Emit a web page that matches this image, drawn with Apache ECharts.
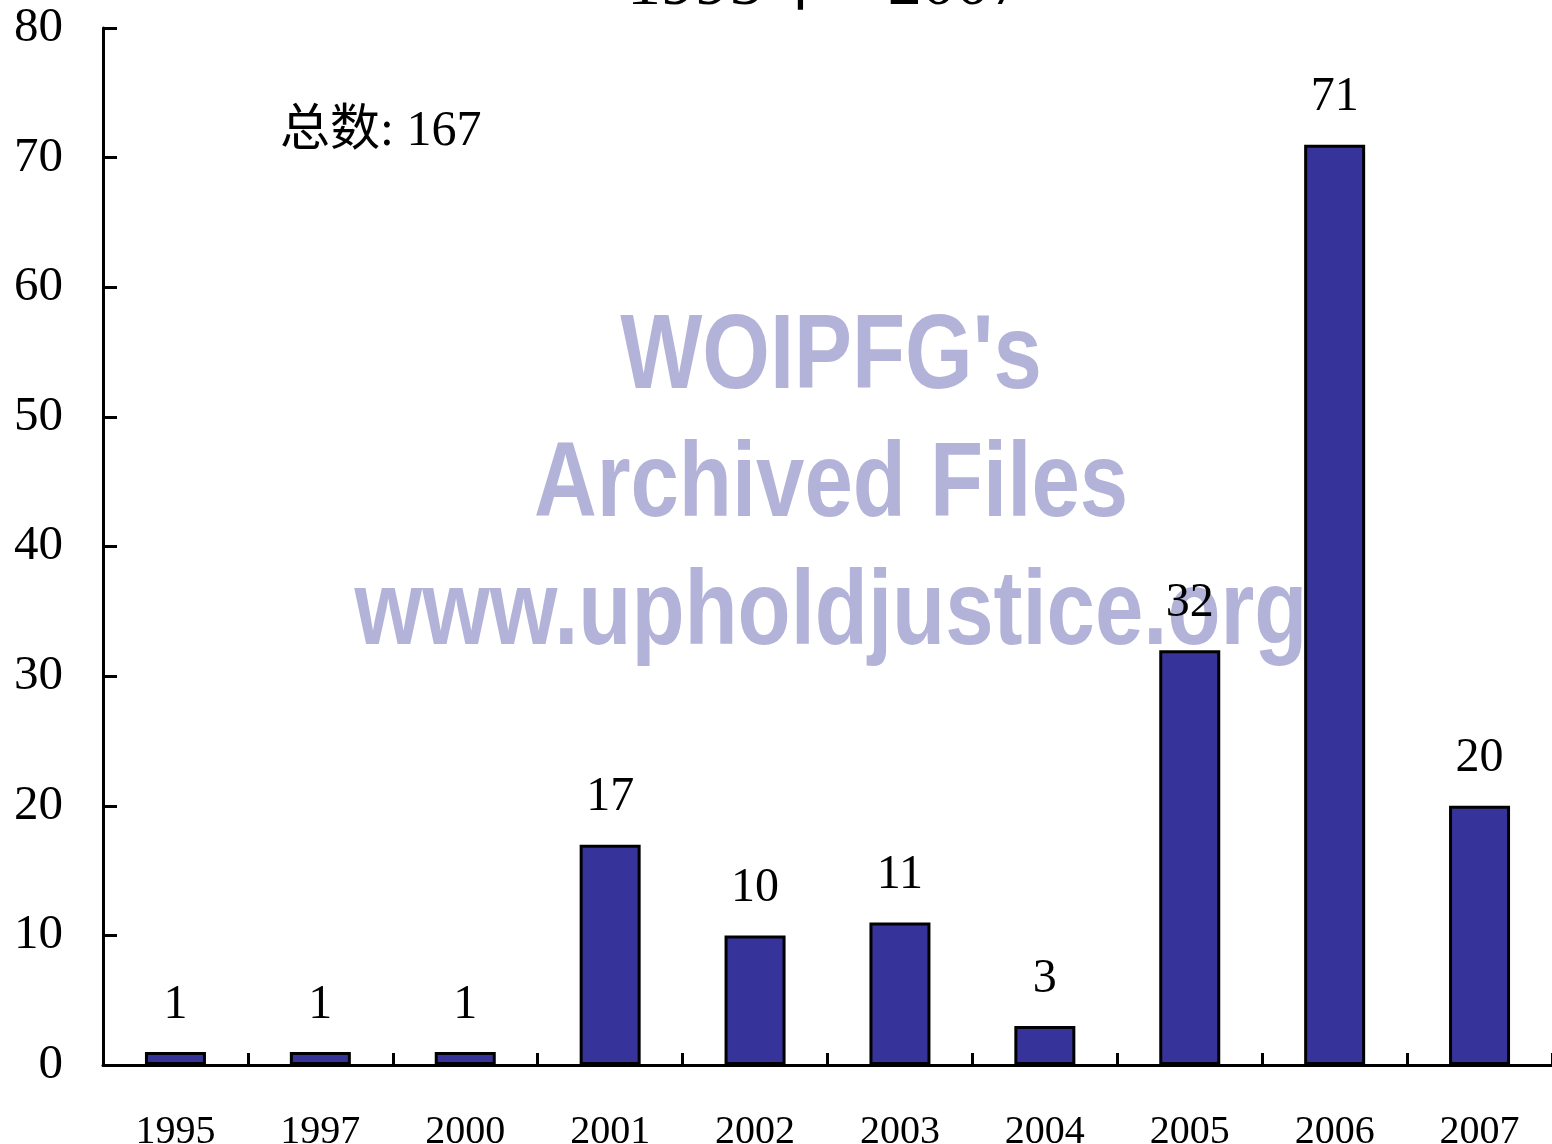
<!DOCTYPE html>
<html>
<head>
<meta charset="utf-8">
<title>1995-2007</title>
<script src="https://cdn.jsdelivr.net/npm/echarts@6/dist/echarts.min.js"></script>
<style>
  html, body { margin: 0; padding: 0; background: #fff; }
  #chart { width: 1552px; height: 1144px; }
</style>
</head>
<body>
<div id="chart"></div>
<script>
// data
var years  = ['1995', '1997', '2000', '2001', '2002', '2003', '2004', '2005', '2006', '2007'];
var counts = [1, 1, 1, 17, 10, 11, 3, 32, 71, 20];
var yTicks = { min: 0, max: 80, step: 10 };
var totalText = '总数: 167';
var watermarkLines = ["WOIPFG's", 'Archived Files', 'www.upholdjustice.org'];

var serif = "'Times New Roman', 'Liberation Serif', 'Noto Sans CJK SC', serif";
var wmFont = "'Liberation Sans', Arial, sans-serif";

var chart = echarts.init(document.getElementById('chart'));

var option = {
  animation: false,
  backgroundColor: '#fff',
  title: {
    text: '1995年 - 2007',
    left: 627,
    top: -48,
    padding: 0,
    textStyle: { fontFamily: serif, fontSize: 68, fontWeight: 'normal', color: '#000' }
  },
  grid: { left: 103, right: 0, top: 28, bottom: 79, containLabel: false, outerBoundsMode: 'none' },
  xAxis: {
    type: 'category',
    data: years,
    boundaryGap: true,
    axisLine: { show: true, lineStyle: { color: '#000', width: 3 } },
    axisTick: { show: true, inside: true, length: 12, lineStyle: { color: '#000', width: 3 } },
    axisLabel: { margin: 47, fontFamily: serif, fontSize: 40, color: '#000' }
  },
  yAxis: {
    type: 'value',
    min: yTicks.min,
    max: yTicks.max,
    interval: yTicks.step,
    splitLine: { show: false },
    axisLine: { show: true, lineStyle: { color: '#000', width: 3 } },
    axisTick: { show: true, inside: true, length: 14, lineStyle: { color: '#000', width: 3 } },
    axisLabel: { margin: 40, fontFamily: serif, fontSize: 49, color: '#000' }
  },
  graphic: [
    {
      type: 'text', z: 100, left: 280, top: 107,
      style: { text: totalText, font: '50px ' + serif, fill: '#000' }
    }
  ].concat(watermarkLines.map(function (t, i) {
    // condensed bold sans watermark
    return {
      type: 'text', z: -1, x: 831, y: [359, 487, 615][i], scaleX: 0.82,
      style: {
        text: t, font: 'bold 106px ' + wmFont, fill: '#b3b3d9',
        align: 'center', verticalAlign: 'middle'
      }
    };
  })),
  series: [{
    type: 'bar',
    data: counts,
    barWidth: 61,
    z: 5,
    itemStyle: { color: '#36349a', borderColor: '#000', borderWidth: 3 },
    label: {
      show: true, position: 'top', distance: 23,
      fontFamily: serif, fontSize: 48, color: '#000'
    }
  }]
};

chart.setOption(option);
</script>
</body>
</html>
